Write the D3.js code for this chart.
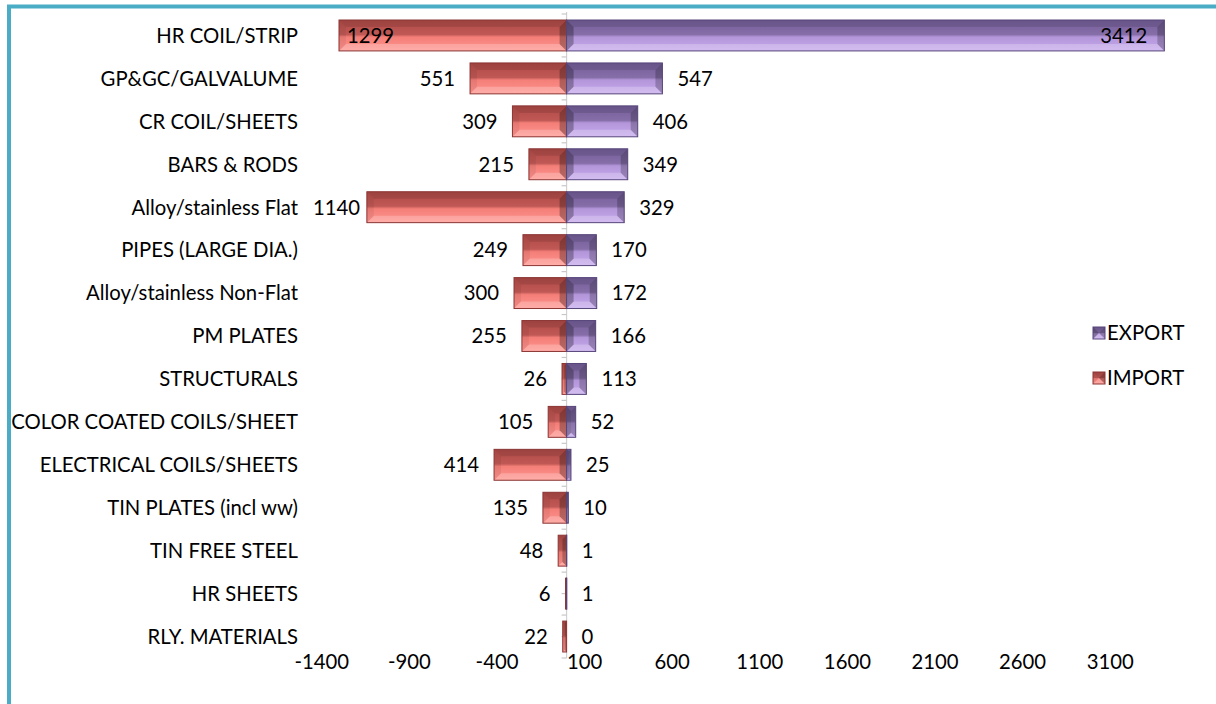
<!DOCTYPE html>
<html>
<head>
<meta charset="utf-8">
<script src="https://cdn.jsdelivr.net/npm/d3@7"></script>
<style>
  html, body { margin: 0; padding: 0; background: #ffffff; }
  svg { display: block; }
  text { font-family: Lato, "Open Sans", sans-serif; fill: #000; }
</style>
</head>
<body>
<svg id="chart" width="1216" height="704"></svg>
<script>
// Steel product trade, '000 tonnes
const categories = [
  "HR COIL/STRIP", "GP&GC/GALVALUME", "CR COIL/SHEETS", "BARS & RODS",
  "Alloy/stainless Flat", "PIPES (LARGE DIA.)", "Alloy/stainless Non-Flat",
  "PM PLATES", "STRUCTURALS", "COLOR COATED COILS/SHEET",
  "ELECTRICAL COILS/SHEETS", "TIN PLATES (incl ww)", "TIN FREE STEEL",
  "HR SHEETS", "RLY. MATERIALS"
];
const exportValues = [3412, 547, 406, 349, 329, 170, 172, 166, 113, 52, 25, 10, 1, 1, 0];
const importValues = [1299, 551, 309, 215, 1140, 249, 300, 255, 26, 105, 414, 135, 48, 6, 22];
const tickValues = [-1400, -900, -400, 100, 600, 1100, 1600, 2100, 2600, 3100];
const seriesNames = ["EXPORT", "IMPORT"];

const FONT = 20.3;
const svg = d3.select("#chart");
const defs = svg.append("defs");

// Vertical shading for each series: darker upper half, lighter lower half
const palettes = {
  IMPORT: { stops: ["#b04a47", "#c05955", "#f47e78", "#ff958f"], stroke: "#8a3533" },
  EXPORT: { stops: ["#745e98", "#866ea9", "#b396da", "#c6aaec"], stroke: "#56457a" }
};
Object.entries(palettes).forEach(([name, p]) => {
  const g = defs.append("linearGradient")
    .attr("id", "grad-" + name).attr("x1", 0).attr("y1", 0).attr("x2", 0).attr("y2", 1);
  [[0, p.stops[0]], [0.47, p.stops[1]], [0.55, p.stops[2]], [1, p.stops[3]]]
    .forEach(([o, c]) => g.append("stop").attr("offset", o).attr("stop-color", c));
});

// Frame around the chart area
svg.append("rect")
  .attr("x", 9).attr("y", 6.5).attr("width", 1400).attr("height", 900)
  .attr("fill", "none").attr("stroke", "#4bacc6").attr("stroke-width", 4);

const x = d3.scaleLinear().domain([-1400, 3600]).range([321.3, 1197.3]);
const y = d3.scaleBand().domain(categories).range([14, 658]).paddingInner(0.28).paddingOuter(0.14);

// Category axis line at zero with half-band tick marks
const zeroX = x(0);
const axisG = svg.append("g");
axisG.append("line")
  .attr("x1", zeroX).attr("x2", zeroX).attr("y1", 12).attr("y2", 658)
  .attr("stroke", "#d0d0d0").attr("stroke-width", 1.2);
const step = y.step();
const tickYs = d3.range(0, categories.length * 2 + 1).map(i => 14 + i * step / 2);
axisG.selectAll("line.tk").data(tickYs).join("line")
  .attr("class", "tk")
  .attr("x1", zeroX - 5).attr("x2", zeroX)
  .attr("y1", d => d).attr("y2", d => d)
  .attr("stroke", "#c8c8c8").attr("stroke-width", 1.2);

// Beveled bar: base rect plus four shaded faces
function bevelBar(g, x0, y0, w, h, series) {
  if (w <= 0) return;
  const p = palettes[series];
  const b = Math.min(7, w / 2, h / 2);
  const bg = g.append("g");
  bg.append("rect").attr("x", x0).attr("y", y0).attr("width", w).attr("height", h)
    .attr("fill", `url(#grad-${series})`);
  const x1 = x0 + w, y1 = y0 + h;
  const faces = [
    { pts: [[x0, y0], [x1, y0], [x1 - b, y0 + b], [x0 + b, y0 + b]], fill: "#000", op: 0.10 },
    { pts: [[x0, y1], [x1, y1], [x1 - b, y1 - b], [x0 + b, y1 - b]], fill: "#fff", op: 0.22 },
    { pts: [[x0, y0], [x0 + b, y0 + b], [x0 + b, y1 - b], [x0, y1]], fill: "#000", op: series === "IMPORT" ? 0.06 : 0.28 },
    { pts: [[x1, y0], [x1 - b, y0 + b], [x1 - b, y1 - b], [x1, y1]], fill: "#000", op: series === "IMPORT" ? 0.28 : 0.22 }
  ];
  faces.forEach(f => bg.append("polygon")
    .attr("points", f.pts.map(q => q.join(",")).join(" "))
    .attr("fill", f.fill).attr("fill-opacity", f.op));
  bg.append("rect").attr("x", x0).attr("y", y0).attr("width", w).attr("height", h)
    .attr("fill", "none").attr("stroke", p.stroke).attr("stroke-width", 1);
}

const barsG = svg.append("g");
const labelsG = svg.append("g").attr("font-size", FONT);
const labelGap = 15;

categories.forEach((c, i) => {
  const yTop = y(c), h = y.bandwidth(), yc = yTop + h / 2;
  const iv = importValues[i], ev = exportValues[i];
  const xi = x(-iv), xe = x(ev);

  bevelBar(barsG, xi, yTop, zeroX - xi, h, "IMPORT");
  bevelBar(barsG, zeroX, yTop, xe - zeroX, h, "EXPORT");

  // Import value: inside the bar when it is very long, otherwise beside it
  const impInside = iv > 1200;
  labelsG.append("text")
    .attr("x", impInside ? xi + 8 : Math.max(xi - labelGap, 360))
    .attr("y", yc).attr("dy", "0.36em")
    .attr("text-anchor", impInside ? "start" : "end")
    .text(iv);

  const expInside = ev > 3000;
  labelsG.append("text")
    .attr("x", expInside ? xe - 17 : xe + labelGap)
    .attr("y", yc).attr("dy", "0.36em")
    .attr("text-anchor", expInside ? "end" : "start")
    .text(ev);
});

// Category labels
svg.append("g").attr("font-size", FONT)
  .selectAll("text").data(categories).join("text")
  .attr("x", 298).attr("y", d => y(d) + y.bandwidth() / 2).attr("dy", "0.36em")
  .attr("text-anchor", "end")
  .text(d => d);

// Value axis along the bottom (labels only, plain hyphen for negatives)
const xAxis = d3.axisBottom(x).tickValues(tickValues).tickSize(0).tickPadding(0)
  .tickFormat(d => String(d));
const xg = svg.append("g").attr("transform", "translate(0,655)").call(xAxis);
xg.select(".domain").remove();
xg.selectAll("text").attr("font-size", FONT).attr("font-family", "Lato, 'Open Sans', sans-serif").attr("fill", "#000");

// Legend
const legend = svg.append("g");
seriesNames.forEach((s, i) => {
  const ly = 333 + i * 45;
  bevelBar(legend, 1093, ly - 6, 12, 12, s);
  legend.append("text").attr("x", 1107).attr("y", ly).attr("dy", "0.36em")
    .attr("font-size", FONT).text(s);
});
</script>
</body>
</html>
